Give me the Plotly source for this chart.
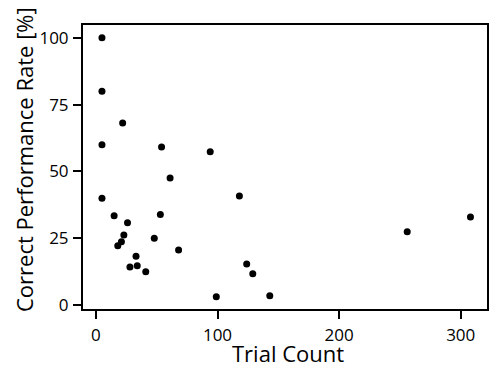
import plotly.graph_objects as go

trial_count = [5, 5, 22, 5, 54, 94, 61, 118, 5, 15, 53, 26, 23, 21, 18, 48, 68, 33, 28, 34, 41, 99, 124, 129, 143, 256, 308]
correct_rate = [100, 80, 68.1, 60, 59.1, 57.4, 47.5, 40.8, 40, 33.4, 33.9, 30.8, 26.2, 23.7, 22.2, 25.0, 20.6, 18.2, 14.2, 14.7, 12.4, 3.1, 15.3, 11.7, 3.5, 27.4, 32.9]

x_ticks = [0, 100, 200, 300]
y_ticks = [0, 25, 50, 75, 100]

x_title = "Trial Count"
y_title = "Correct Performance Rate [%]"

font_family = "Open Sans, sans-serif"

fig = go.Figure(go.Scatter(
    x=trial_count, y=correct_rate, mode="markers",
    marker=dict(color="black", size=7),
))

axis_common = dict(
    showgrid=False, zeroline=False, showline=True, linecolor="black", linewidth=2,
    mirror=True, ticks="outside", ticklen=8, tickwidth=2, tickcolor="black",
    tickfont=dict(family=font_family, size=17, color="black"),
)

fig.update_xaxes(range=[-10.6, 321.6], tickvals=x_ticks, ticklabelstandoff=2, **axis_common)
fig.update_yaxes(range=[-1.5, 104.8], tickvals=y_ticks, ticklabelstandoff=1, **axis_common)

fig.add_annotation(text=x_title, xref="paper", yref="paper", x=0.5, y=0,
                   xanchor="center", yanchor="top", xshift=3, yshift=-28, showarrow=False,
                   borderpad=0, font=dict(family=font_family, size=22, color="black"))
fig.add_annotation(text=y_title, xref="paper", yref="paper", x=0, y=0.5, textangle=-90,
                   xanchor="center", yanchor="middle", xshift=-59, yshift=7, showarrow=False,
                   borderpad=0, font=dict(family=font_family, size=22, color="black"))

fig.update_layout(
    width=491, height=367,
    margin=dict(l=83, r=2, t=25, b=58),
    plot_bgcolor="white", paper_bgcolor="white",
    showlegend=False,
)

fig.write_html("out.html")
